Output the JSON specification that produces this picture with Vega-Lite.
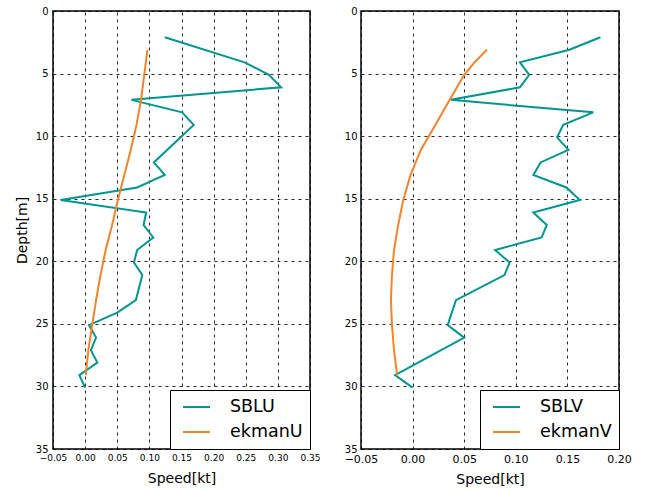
{
  "$schema": "https://vega.github.io/schema/vega-lite/v6.json",
  "padding": {"top": 5, "left": 14, "right": 5, "bottom": 5},
  "background": "white",
  "config": {
    "font": "DejaVu Sans",
    "view": {"stroke": "black", "strokeWidth": 1.5},
    "axis": {
      "grid": true,
      "gridColor": "black",
      "gridDash": [3, 4],
      "gridWidth": 1,
      "gridOpacity": 0.85,
      "domain": false,
      "ticks": false,
      "labelColor": "black",
      "titleColor": "black",
      "titleFontWeight": "normal",
      "labelFont": "DejaVu Sans",
      "titleFont": "DejaVu Sans"
    },
    "legend": {
      "orient": "bottom-right",
      "offset": 0,
      "strokeColor": "black",
      "fillColor": "white",
      "cornerRadius": 0,
      "padding": 7,
      "rowPadding": 5,
      "clipHeight": 20,
      "labelFontSize": 17.5,
      "labelFont": "DejaVu Sans",
      "labelColor": "black",
      "labelOffset": 19,
      "symbolOffset": 5,
      "symbolType": "stroke",
      "symbolSize": 729,
      "symbolStrokeWidth": 2,
      "title": null
    }
  },
  "datasets": {
    "u": [
      {"depth": 2.1, "speed": 0.124, "series": "SBLU"},
      {"depth": 4.1, "speed": 0.248, "series": "SBLU"},
      {"depth": 5.1, "speed": 0.286, "series": "SBLU"},
      {"depth": 6.1, "speed": 0.305, "series": "SBLU"},
      {"depth": 7.1, "speed": 0.072, "series": "SBLU"},
      {"depth": 8.1, "speed": 0.151, "series": "SBLU"},
      {"depth": 9.1, "speed": 0.169, "series": "SBLU"},
      {"depth": 12.1, "speed": 0.107, "series": "SBLU"},
      {"depth": 13.1, "speed": 0.124, "series": "SBLU"},
      {"depth": 14.1, "speed": 0.081, "series": "SBLU"},
      {"depth": 15.1, "speed": -0.038, "series": "SBLU"},
      {"depth": 16.1, "speed": 0.095, "series": "SBLU"},
      {"depth": 17.1, "speed": 0.091, "series": "SBLU"},
      {"depth": 18.1, "speed": 0.106, "series": "SBLU"},
      {"depth": 19.1, "speed": 0.081, "series": "SBLU"},
      {"depth": 20.1, "speed": 0.076, "series": "SBLU"},
      {"depth": 21.1, "speed": 0.089, "series": "SBLU"},
      {"depth": 23.1, "speed": 0.079, "series": "SBLU"},
      {"depth": 24.1, "speed": 0.05, "series": "SBLU"},
      {"depth": 25.1, "speed": 0.006, "series": "SBLU"},
      {"depth": 26.1, "speed": 0.017, "series": "SBLU"},
      {"depth": 27.1, "speed": 0.009, "series": "SBLU"},
      {"depth": 28.1, "speed": 0.019, "series": "SBLU"},
      {"depth": 29.1, "speed": -0.009, "series": "SBLU"},
      {"depth": 30.1, "speed": 0.0, "series": "SBLU"},
      {"depth": 3.1, "speed": 0.097, "series": "ekmanU"},
      {"depth": 5.1, "speed": 0.092, "series": "ekmanU"},
      {"depth": 7.1, "speed": 0.087, "series": "ekmanU"},
      {"depth": 9.1, "speed": 0.08, "series": "ekmanU"},
      {"depth": 11.1, "speed": 0.071, "series": "ekmanU"},
      {"depth": 13.1, "speed": 0.061, "series": "ekmanU"},
      {"depth": 15.1, "speed": 0.051, "series": "ekmanU"},
      {"depth": 17.1, "speed": 0.042, "series": "ekmanU"},
      {"depth": 19.1, "speed": 0.032, "series": "ekmanU"},
      {"depth": 21.1, "speed": 0.024, "series": "ekmanU"},
      {"depth": 23.1, "speed": 0.017, "series": "ekmanU"},
      {"depth": 25.1, "speed": 0.011, "series": "ekmanU"},
      {"depth": 27.1, "speed": 0.005, "series": "ekmanU"},
      {"depth": 29.1, "speed": 0.001, "series": "ekmanU"}
    ],
    "v": [
      {"depth": 2.1, "speed": 0.182, "series": "SBLV"},
      {"depth": 3.1, "speed": 0.152, "series": "SBLV"},
      {"depth": 4.1, "speed": 0.104, "series": "SBLV"},
      {"depth": 5.1, "speed": 0.113, "series": "SBLV"},
      {"depth": 6.1, "speed": 0.104, "series": "SBLV"},
      {"depth": 7.1, "speed": 0.037, "series": "SBLV"},
      {"depth": 8.1, "speed": 0.175, "series": "SBLV"},
      {"depth": 9.1, "speed": 0.146, "series": "SBLV"},
      {"depth": 10.1, "speed": 0.14, "series": "SBLV"},
      {"depth": 11.1, "speed": 0.151, "series": "SBLV"},
      {"depth": 12.1, "speed": 0.124, "series": "SBLV"},
      {"depth": 13.1, "speed": 0.117, "series": "SBLV"},
      {"depth": 14.1, "speed": 0.149, "series": "SBLV"},
      {"depth": 15.1, "speed": 0.162, "series": "SBLV"},
      {"depth": 16.1, "speed": 0.117, "series": "SBLV"},
      {"depth": 17.1, "speed": 0.13, "series": "SBLV"},
      {"depth": 18.1, "speed": 0.125, "series": "SBLV"},
      {"depth": 19.1, "speed": 0.08, "series": "SBLV"},
      {"depth": 20.1, "speed": 0.094, "series": "SBLV"},
      {"depth": 21.1, "speed": 0.089, "series": "SBLV"},
      {"depth": 23.1, "speed": 0.042, "series": "SBLV"},
      {"depth": 25.1, "speed": 0.034, "series": "SBLV"},
      {"depth": 26.1, "speed": 0.05, "series": "SBLV"},
      {"depth": 29.1, "speed": -0.017, "series": "SBLV"},
      {"depth": 30.1, "speed": 0.0, "series": "SBLV"},
      {"depth": 3.1, "speed": 0.072, "series": "ekmanV"},
      {"depth": 4.1, "speed": 0.06, "series": "ekmanV"},
      {"depth": 5.1, "speed": 0.05, "series": "ekmanV"},
      {"depth": 6.1, "speed": 0.043, "series": "ekmanV"},
      {"depth": 7.1, "speed": 0.036, "series": "ekmanV"},
      {"depth": 9.1, "speed": 0.022, "series": "ekmanV"},
      {"depth": 11.1, "speed": 0.008, "series": "ekmanV"},
      {"depth": 13.1, "speed": -0.002, "series": "ekmanV"},
      {"depth": 15.1, "speed": -0.009, "series": "ekmanV"},
      {"depth": 17.1, "speed": -0.014, "series": "ekmanV"},
      {"depth": 19.1, "speed": -0.018, "series": "ekmanV"},
      {"depth": 21.1, "speed": -0.02, "series": "ekmanV"},
      {"depth": 23.1, "speed": -0.021, "series": "ekmanV"},
      {"depth": 25.1, "speed": -0.02, "series": "ekmanV"},
      {"depth": 27.1, "speed": -0.018, "series": "ekmanV"},
      {"depth": 29.1, "speed": -0.015, "series": "ekmanV"}
    ]
  },
  "spacing": 22,
  "resolve": {"scale": {"color": "independent"}, "legend": {"color": "independent"}},
  "hconcat": [
    {
      "width": 257,
      "height": 438,
      "data": {"name": "u"},
      "mark": {"type": "line", "strokeWidth": 2, "clip": true},
      "encoding": {
        "x": {
          "field": "speed",
          "type": "quantitative",
          "scale": {"domain": [-0.05, 0.35], "nice": false, "zero": false},
          "axis": {
            "title": "Speed[kt]",
            "values": [-0.05, 0, 0.05, 0.1, 0.15, 0.2, 0.25, 0.3, 0.35],
            "format": ".2f",
            "labelFontSize": 9,
            "labelPadding": 4,
            "titleFontSize": 14,
            "titlePadding": 9,
            "labelFlush": false,
            "labelOverlap": false
          }
        },
        "y": {
          "field": "depth",
          "type": "quantitative",
          "scale": {"domain": [0, 35], "reverse": true, "nice": false, "zero": false},
          "axis": {
            "title": "Depth[m]",
            "values": [0, 5, 10, 15, 20, 25, 30, 35],
            "labelFontSize": 10,
            "labelPadding": 5,
            "titleFontSize": 14,
            "titlePadding": 6,
            "labelFlush": false,
            "labelOverlap": false
          }
        },
        "color": {
          "field": "series",
          "type": "nominal",
          "scale": {"domain": ["SBLU", "ekmanU"], "range": ["#00968f", "#f5832a"]}
        },
        "order": {"field": "depth", "type": "quantitative"}
      }
    },
    {
      "width": 258,
      "height": 438,
      "data": {"name": "v"},
      "mark": {"type": "line", "strokeWidth": 2, "clip": true},
      "encoding": {
        "x": {
          "field": "speed",
          "type": "quantitative",
          "scale": {"domain": [-0.05, 0.2], "nice": false, "zero": false},
          "axis": {
            "title": "Speed[kt]",
            "values": [-0.05, 0, 0.05, 0.1, 0.15, 0.2],
            "format": ".2f",
            "labelFontSize": 11,
            "labelPadding": 4,
            "titleFontSize": 14,
            "titlePadding": 8,
            "labelFlush": false,
            "labelOverlap": false
          }
        },
        "y": {
          "field": "depth",
          "type": "quantitative",
          "scale": {"domain": [0, 35], "reverse": true, "nice": false, "zero": false},
          "axis": {
            "title": null,
            "values": [0, 5, 10, 15, 20, 25, 30, 35],
            "labelFontSize": 10,
            "labelPadding": 4,
            "labelFlush": false,
            "labelOverlap": false
          }
        },
        "color": {
          "field": "series",
          "type": "nominal",
          "scale": {"domain": ["SBLV", "ekmanV"], "range": ["#00968f", "#f5832a"]}
        },
        "order": {"field": "depth", "type": "quantitative"}
      }
    }
  ]
}
